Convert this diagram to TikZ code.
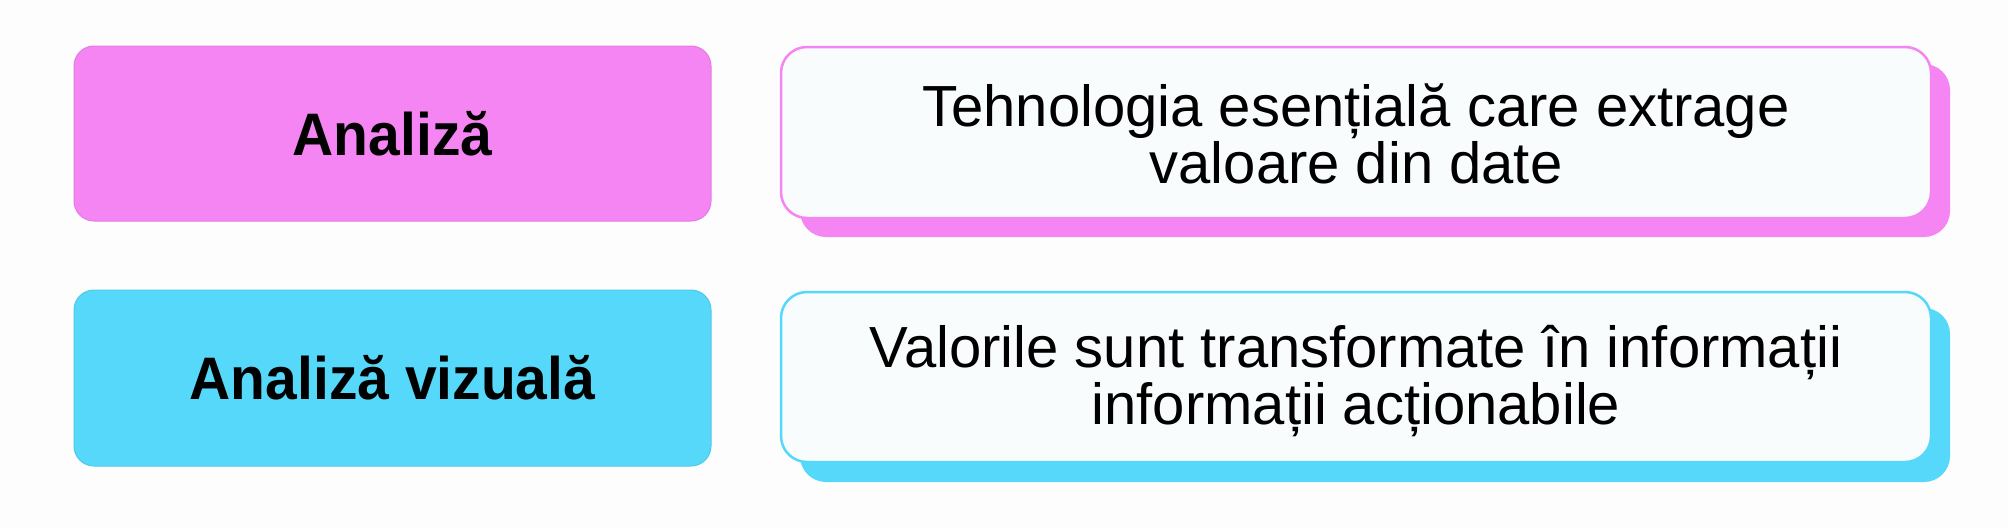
\documentclass[tikz,border=0pt]{standalone}
\usepackage{fontspec}
\setmainfont{Liberation Sans}
\newfontfamily\labelfont[FakeStretch=0.95]{Liberation Sans}
\definecolor{bgc}{HTML}{FDFDFD}
\definecolor{pinkc}{HTML}{F485F3}
\definecolor{cyanc}{HTML}{56D8FA}
\definecolor{cardc}{HTML}{F8FCFD}
\tikzset{
  x=1pt, y=-1pt,
  labelbox/.style={draw=#1!93!black, line width=1pt, fill=#1, rounded corners=20pt},
  shadowbox/.style={fill=#1, rounded corners=26pt},
  cardbox/.style={draw=#1, line width=2.5pt, fill=cardc, rounded corners=26pt},
  labeltext/.style={font=\labelfont\fontsize{60}{60}\selectfont\bfseries, text=black},
  cardtext/.style={font=\fontsize{58}{57}\selectfont, text=black, align=center},
}
\begin{document}
\begin{tikzpicture}
\fill[bgc] (0,0) rectangle (2008,528);
\useasboundingbox (0,0) rectangle (2008,528);
% row 1
\draw[labelbox=pinkc] (74,46) rectangle (711,221);
\node[labeltext] (l1) at (392.5,133.5) {Analiză};
\fill[shadowbox=pinkc] (800,64) rectangle (1950,237);
\draw[cardbox=pinkc] (781,47) rectangle (1931,218);
\node[cardtext] (c1) at (1356,134) {Tehnologia esențială care extrage\\valoare din date};
% row 2
\draw[labelbox=cyanc] (74,290) rectangle (711,466);
\node[labeltext] (l2) at (392.5,378) {Analiză vizuală};
\fill[shadowbox=cyanc] (800,308) rectangle (1950,482);
\draw[cardbox=cyanc] (781,292) rectangle (1931,462);
\node[cardtext] (c2) at (1356,381) {Valorile sunt transformate în informații\\informații acționabile};
\end{tikzpicture}
\end{document}
